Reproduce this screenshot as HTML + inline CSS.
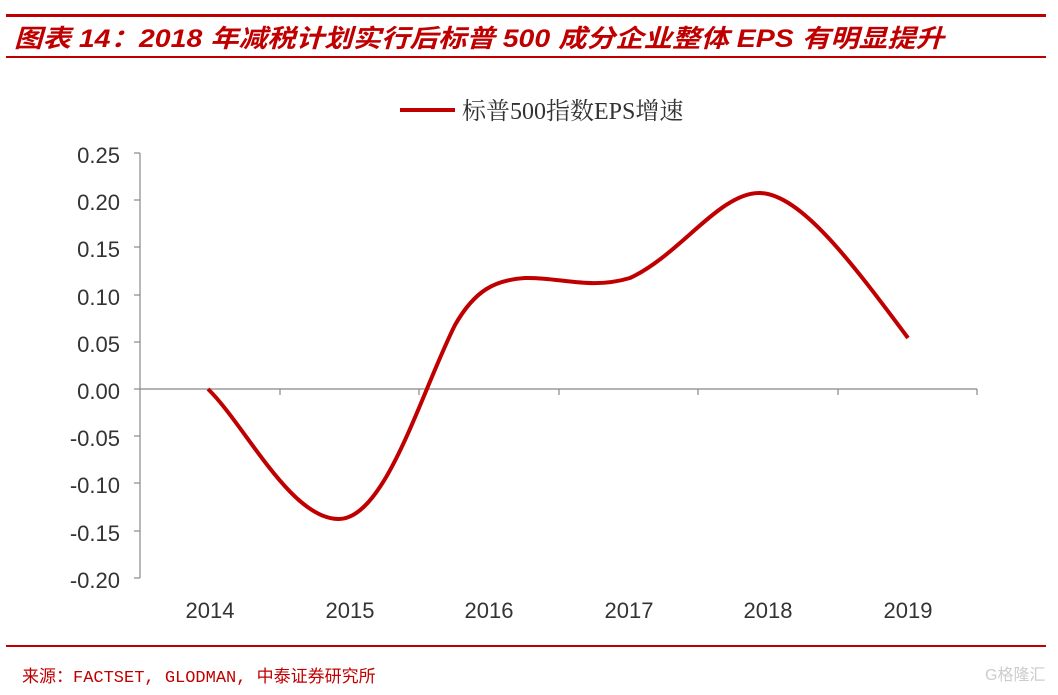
<!DOCTYPE html><html><head><meta charset="utf-8"><style>
body{margin:0;background:#fff;width:1058px;height:690px;overflow:hidden}
</style></head><body>
<svg width="1058" height="690" xmlns="http://www.w3.org/2000/svg" font-family="Liberation Sans, Noto Sans CJK SC, sans-serif">
<rect x="6" y="14" width="1040" height="3" fill="#c00000"/>
<rect x="6" y="56" width="1040" height="2" fill="#c00000"/>
<text x="14" y="47" font-size="25" font-weight="bold" font-style="italic" fill="#c00000" textLength="930" lengthAdjust="spacingAndGlyphs">图表 14：2018 年减税计划实行后标普 500 成分企业整体 EPS 有明显提升</text>
<line x1="400" y1="110" x2="455" y2="110" stroke="#c00000" stroke-width="4"/>
<text x="462" y="119" font-size="24" fill="#333" font-family="Liberation Serif, Noto Serif CJK SC, serif">标普500指数EPS增速</text>
<g stroke="#888" stroke-width="1.2">
<line x1="140" y1="153" x2="140" y2="578"/>
<line x1="140" y1="389" x2="977" y2="389"/>
<line x1="134" y1="153" x2="140" y2="153"/><line x1="134" y1="200" x2="140" y2="200"/><line x1="134" y1="247" x2="140" y2="247"/><line x1="134" y1="295" x2="140" y2="295"/><line x1="134" y1="342" x2="140" y2="342"/><line x1="134" y1="389" x2="140" y2="389"/><line x1="134" y1="436" x2="140" y2="436"/><line x1="134" y1="483" x2="140" y2="483"/><line x1="134" y1="531" x2="140" y2="531"/><line x1="134" y1="578" x2="140" y2="578"/>
<line x1="280" y1="389" x2="280" y2="395"/><line x1="419" y1="389" x2="419" y2="395"/><line x1="559" y1="389" x2="559" y2="395"/><line x1="698" y1="389" x2="698" y2="395"/><line x1="838" y1="389" x2="838" y2="395"/><line x1="977" y1="389" x2="977" y2="395"/>
</g>
<g font-size="22" fill="#333" text-anchor="end">
<text x="120" y="163">0.25</text><text x="120" y="210">0.20</text><text x="120" y="257">0.15</text><text x="120" y="305">0.10</text><text x="120" y="352">0.05</text><text x="120" y="399">0.00</text><text x="120" y="446">-0.05</text><text x="120" y="493">-0.10</text><text x="120" y="541">-0.15</text><text x="120" y="588">-0.20</text>
</g>
<g font-size="22" fill="#333" text-anchor="middle">
<text x="210" y="618">2014</text><text x="350" y="618">2015</text><text x="489" y="618">2016</text><text x="629" y="618">2017</text><text x="768" y="618">2018</text><text x="908" y="618">2019</text>
</g>
<path d="M208,389 C245,425 290,518 338,519 C385,520 420,395 455,325 C475,290 495,280 525,278 C560,277 590,290 630,278 C680,255 720,192 760,193 C800,194 850,260 908,338" fill="none" stroke="#c00000" stroke-width="4"/>
<rect x="6" y="645" width="1040" height="2" fill="#c00000"/>
<text x="22" y="682" font-size="17" fill="#c00000" font-family="Liberation Mono, Noto Sans CJK SC, monospace">来源：FACTSET, GLODMAN, 中泰证券研究所</text>
<text x="985" y="680" font-size="16" fill="#ccc">G格隆汇</text>
</svg>
</body></html>
